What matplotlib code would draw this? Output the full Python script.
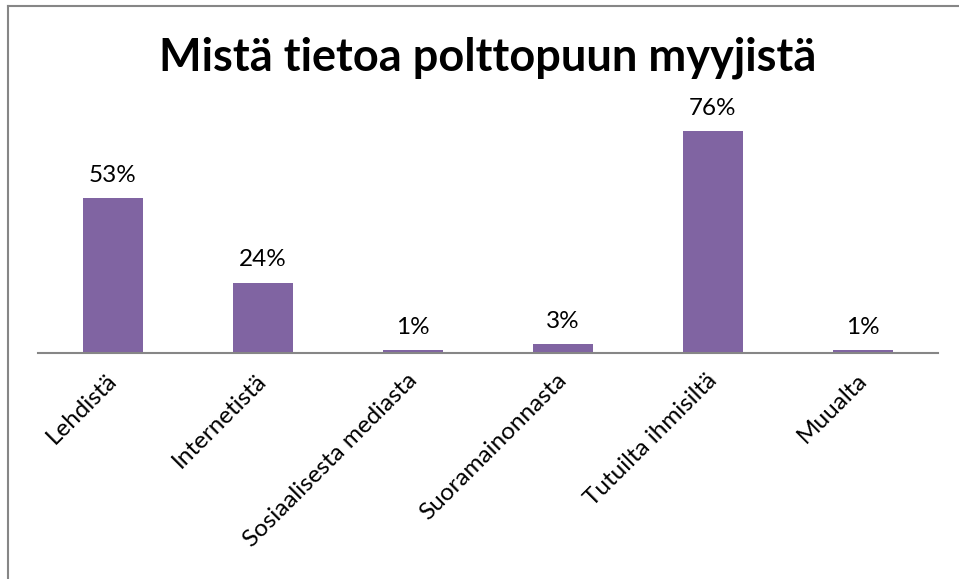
import matplotlib
matplotlib.use("Agg")
import matplotlib.pyplot as plt
from matplotlib.lines import Line2D
import matplotlib.transforms as mtransforms

categories = ["Lehdistä", "Internetistä", "Sosiaalisesta mediasta", "Suoramainonnasta", "Tutuilta ihmisiltä", "Muualta"]
values = [53, 24, 1, 3, 76, 1]
value_labels = ["53%", "24%", "1%", "3%", "76%", "1%"]
title = "Mistä tietoa polttopuun myyjistä"

W, H = 959, 579
fig = plt.figure(figsize=(W / 100, H / 100), dpi=100)
plt.rcParams['font.family'] = ['Lato', 'DejaVu Sans']

# axes: x 38..938 px, baseline at 353 px, 2.92 px per percent
ymax = 80
x0, x1 = 38, 938
base = 353
top = base - ymax * 2.92
ax = fig.add_axes([x0 / W, 1 - base / H, (x1 - x0) / W, (base - top) / H])

xs = range(len(categories))
ax.bar(xs, values, width=0.4, color="#8064A2", zorder=2)
ax.set_xlim(-0.5, len(categories) - 0.5)
ax.set_ylim(0, ymax)
for x, v, lab in zip(xs, values, value_labels):
    ax.annotate(lab, (x, v), xytext=(0, 9), textcoords="offset points",
                ha="center", va="bottom", fontsize=17.5, color="black")

for s in ["top", "right", "left"]:
    ax.spines[s].set_visible(False)
ax.spines["bottom"].set_color("#868686")
ax.spines["bottom"].set_linewidth(1.5)
ax.set_yticks([])
ax.set_xticks(list(xs))
ax.set_xticklabels(categories, rotation=45, ha="right", va="top",
                   rotation_mode="anchor", fontsize=17.5)
ax.tick_params(axis="x", length=0, pad=12)
off = mtransforms.ScaledTranslation(-5 / 72, 0, fig.dpi_scale_trans)
for t in ax.get_xticklabels():
    t.set_transform(t.get_transform() + off)
ax.patch.set_alpha(0)

fig.text(488 / W, 1 - 58 / H, title, ha="center", va="center",
         fontsize=32.5, fontweight="bold")

# outer chart border (left and top visible)
fig.add_artist(Line2D([8 / W, 8 / W], [0, 1 - 6 / H], transform=fig.transFigure, color="#868686", lw=1.5))
fig.add_artist(Line2D([8 / W, 1], [1 - 6 / H, 1 - 6 / H], transform=fig.transFigure, color="#868686", lw=1.5))

fig.savefig("out.png", dpi=100)
